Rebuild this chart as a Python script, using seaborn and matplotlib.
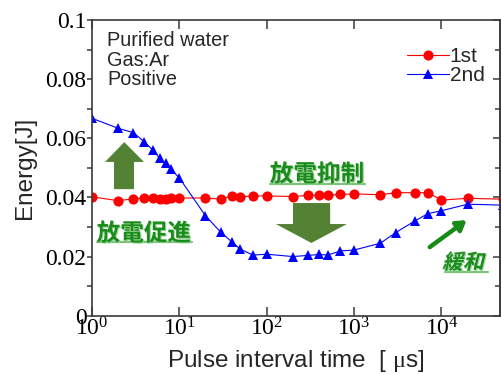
import matplotlib
matplotlib.use("Agg")
import numpy as np
import pandas as pd
import matplotlib.pyplot as plt
import matplotlib.transforms as mtransforms
import matplotlib.patheffects as pe
from matplotlib.lines import Line2D
from matplotlib.patches import Polygon, PathPatch
from matplotlib.textpath import TextPath
from matplotlib.font_manager import FontProperties
from matplotlib.ticker import FixedLocator, FuncFormatter, NullLocator
import seaborn as sns

# Pulse interval [us] and discharge energy [J] of the 1st / 2nd pulse
interval_us = [1, 2, 3, 4, 5, 6, 7, 8, 10, 20, 30, 40, 50, 70, 100, 200, 300,
               400, 500, 700, 1000, 2000, 3000, 5000, 7000, 10000, 20000, 50000]
energy_1st = [0.0402, 0.0389, 0.0395, 0.0398, 0.0397, 0.0395, 0.0395, 0.0398,
              0.0398, 0.0398, 0.0394, 0.0405, 0.0402, 0.0405, 0.0405, 0.0403,
              0.0407, 0.0407, 0.0407, 0.0410, 0.0412, 0.0409, 0.0416, 0.0416,
              0.0416, 0.0391, 0.0397, 0.0394]
energy_2nd = [0.0668, 0.0634, 0.0619, 0.0588, 0.0560, 0.0532, 0.0515, 0.0495,
              0.0467, 0.0338, 0.0282, 0.0250, 0.0225, 0.0205, 0.0208, 0.0200,
              0.0204, 0.0207, 0.0205, 0.0219, 0.0222, 0.0245, 0.0281, 0.0321,
              0.0345, 0.0355, 0.0377, 0.0374]
series_names = ["1st", "2nd"]
series_colors = {"1st": "#ff0000", "2nd": "#0000ff"}
series_markers = {"1st": "o", "2nd": "^"}
series_msize = {"1st": 7.3, "2nd": 7.8}

y_major = [0, 0.02, 0.04, 0.06, 0.08, 0.1]
y_minor = [0.01, 0.03, 0.05, 0.07, 0.09]
x_major = [1, 10, 100, 1000, 10000]

df = pd.concat([
    pd.DataFrame({"interval": interval_us, "energy": energy_1st, "shot": "1st"}),
    pd.DataFrame({"interval": interval_us, "energy": energy_2nd, "shot": "2nd"}),
], ignore_index=True)

sns.set_style("ticks")
plt.rcParams["font.family"] = ["Liberation Sans", "DejaVu Sans"]
plt.rcParams["mathtext.fontset"] = "custom"
plt.rcParams["mathtext.rm"] = "Liberation Serif"

SERIF = "Liberation Serif"
CJK = "Noto Sans CJK JP"
AX_COLOR = "#3a3a3a"
GREEN_TEXT = "#1b8c1b"
GREEN_BLOCK = "#548235"

fig = plt.figure(figsize=(5.01, 3.74), dpi=100)
ax = fig.add_axes([91.7 / 501, 1 - 315.7 / 374, (500 - 91.7) / 501, 295.7 / 374])

for name in series_names:
    sub = df[df["shot"] == name]
    sns.lineplot(data=sub, x="interval", y="energy", ax=ax,
                 color=series_colors[name], marker=series_markers[name],
                 markersize=series_msize[name], markeredgewidth=0,
                 linewidth=0.8, legend=False, estimator=None, sort=False)

ax.set_xscale("log")
ax.set_xlim(1, 10 ** 4.67)
ax.set_ylim(0, 0.1)

ax.xaxis.set_major_locator(FixedLocator(x_major))
ax.xaxis.set_minor_locator(NullLocator())
ax.yaxis.set_major_locator(FixedLocator(y_major))
ax.yaxis.set_minor_locator(FixedLocator(y_minor))
ax.yaxis.set_major_formatter(FuncFormatter(lambda v, p: f"{v:g}"))

for s in ax.spines.values():
    s.set_color(AX_COLOR)
    s.set_linewidth(1.2)

ax.tick_params(axis="x", which="major", direction="in", length=6.5, width=1.1,
               top=True, bottom=True, color=AX_COLOR, pad=1.5,
               labelsize=17, labelfontfamily=SERIF, labelcolor="black")
ax.tick_params(axis="y", which="both", direction="out", length=3.3, width=1.1,
               color=AX_COLOR, pad=0.5, labelsize=17, labelfontfamily=SERIF,
               labelcolor="black", right=False)

# right-hand inward ticks
sec = ax.secondary_yaxis("right")
sec.yaxis.set_major_locator(FixedLocator(y_major))
sec.yaxis.set_minor_locator(FixedLocator(y_minor))
sec.tick_params(which="major", direction="in", length=5, width=1.1, color=AX_COLOR,
                labelright=False)
sec.tick_params(which="minor", direction="in", length=3.3, width=1.1, color=AX_COLOR,
                labelright=False)
sec.spines["right"].set_color(AX_COLOR)
sec.spines["right"].set_linewidth(1.2)

ax.set_xlabel("Pulse interval time  [ $\\mathrm{\\mu}$s]", fontsize=17.5, labelpad=5)
ax.set_ylabel("Energy[J]", fontsize=17.5, labelpad=7)

# condition notes
ax.text(0.0375, 0.962, "Purified water\nGas:Ar\nPositive", transform=ax.transAxes,
        ha="left", va="top", fontsize=14.3, linespacing=1.03)

# legend
handles = [Line2D([], [], color=series_colors[n], marker=series_markers[n],
                  markersize=series_msize[n], markeredgewidth=0, linewidth=0.8)
           for n in series_names]
ax.legend(handles, series_names, loc="upper left", bbox_to_anchor=(0.772, 0.908),
          frameon=False, fontsize=15, handlelength=2.0, handletextpad=0.05,
          borderpad=0, borderaxespad=0, labelspacing=0.0)

# block arrows
up_arrow = [(0.0546, 0.428), (0.1036, 0.428), (0.1036, 0.520), (0.1281, 0.520),
            (0.0798, 0.587), (0.0326, 0.520), (0.0546, 0.520)]
down_arrow = [(0.493, 0.381), (0.584, 0.381), (0.584, 0.310), (0.625, 0.310),
              (0.538, 0.246), (0.451, 0.310), (0.493, 0.310)]
for pts in (up_arrow, down_arrow):
    ax.add_patch(Polygon(pts, closed=True, transform=ax.transAxes,
                         facecolor=GREEN_BLOCK, edgecolor="none", zorder=1))

# thin arrow toward recovery
ax.annotate("", xy=(0.918, 0.323), xytext=(0.828, 0.232),
            xycoords="axes fraction", textcoords="axes fraction",
            arrowprops=dict(arrowstyle="-|>,head_length=0.55,head_width=0.35",
                            color="#178a17", lw=3.2, shrinkA=0, shrinkB=0))

shadow = [pe.withSimplePatchShadow(offset=(0.8, -0.8), shadow_rgbFace="#8fd08f",
                                   alpha=0.9)]


def cjk_label(x, y, s, size):
    ax.text(x, y, s, transform=ax.transAxes, ha="left", va="center",
            fontsize=size, fontweight="bold", family=CJK, color=GREEN_TEXT,
            path_effects=shadow, zorder=4)


cjk_label(0.012, 0.278, "放電促進", 17)
cjk_label(0.436, 0.478, "放電抑制", 17)

# underlines
for (x0, x1, y) in [(0.013, 0.245, 0.249), (0.437, 0.670, 0.445), (0.866, 0.970, 0.149)]:
    ax.add_line(Line2D([x0, x1], [y, y], transform=ax.transAxes, color="#7cc47c",
                       lw=1.6, zorder=3, clip_on=False))

# slanted label
fp = FontProperties(family=CJK, weight="bold", size=15)
tp = TextPath((0, 0), "緩和", prop=fp)
slant = (mtransforms.Affine2D().scale(1 / 72).skew_deg(14, 0)
         + fig.dpi_scale_trans
         + mtransforms.ScaledTranslation(0.858, 0.158, ax.transAxes))
ax.add_patch(PathPatch(tp, transform=slant, facecolor=GREEN_TEXT, edgecolor="none",
                       clip_on=False, zorder=4, path_effects=shadow))

fig.savefig("out.png", dpi=100)
